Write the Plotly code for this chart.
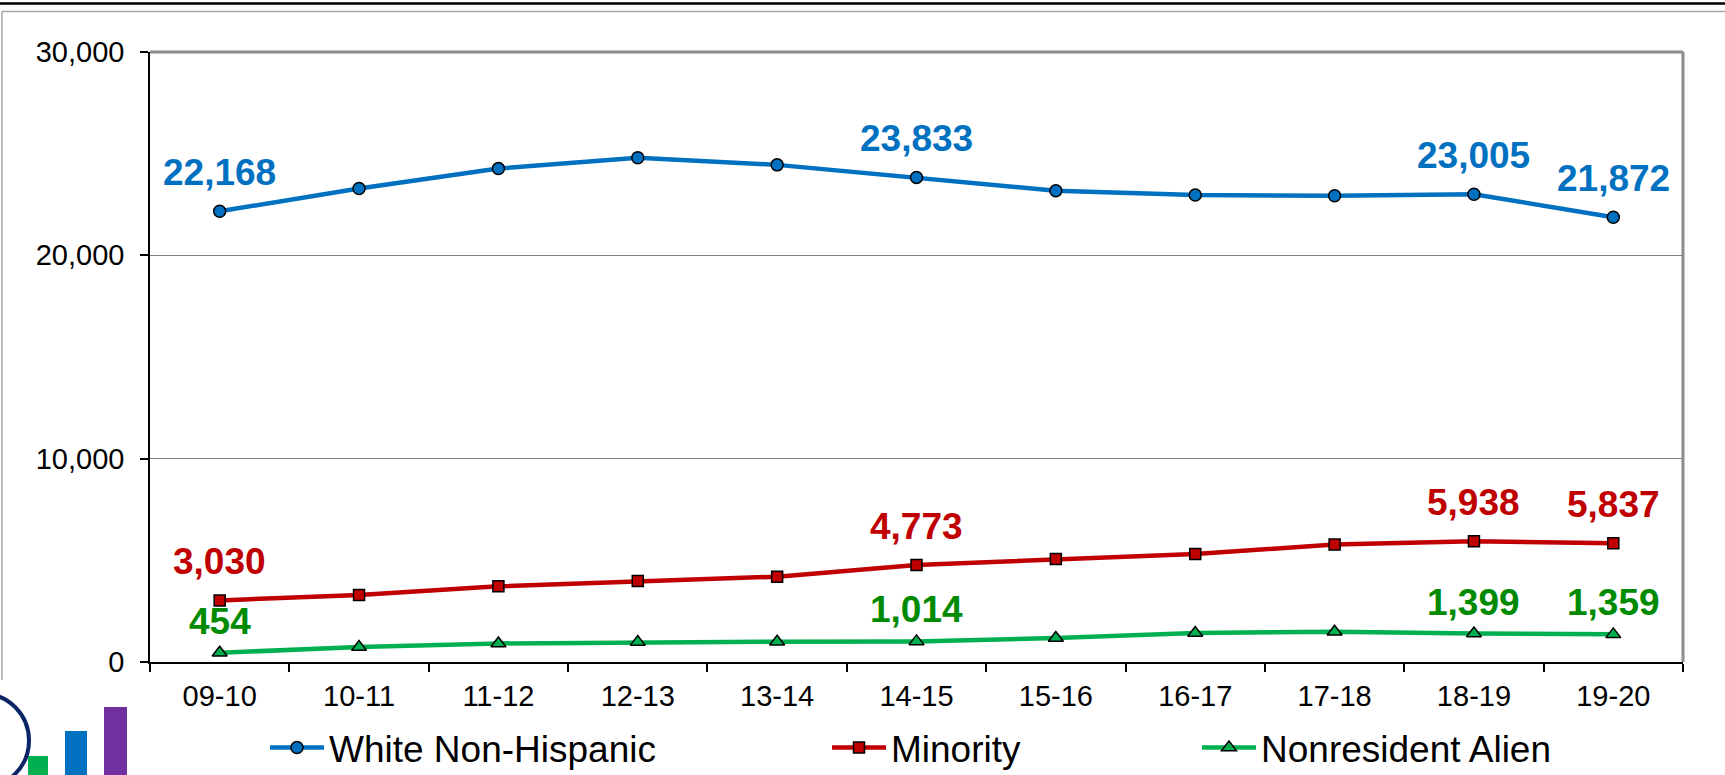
import plotly.graph_objects as go

# ---------------- data ----------------
years = ["09-10", "10-11", "11-12", "12-13", "13-14", "14-15",
         "15-16", "16-17", "17-18", "18-19", "19-20"]
white_non_hispanic = [22168, 23284, 24266, 24799, 24449, 23833,
                      23177, 22964, 22931, 23005, 21872]
minority = [3030, 3293, 3720, 3984, 4197, 4773,
            5068, 5314, 5773, 5938, 5837]
nonresident_alien = [454, 733, 913, 979, 995, 1014,
                     1178, 1424, 1490, 1399, 1359]
labeled_years = ["09-10", "14-15", "18-19", "19-20"]
y_ticks = [0, 10000, 20000, 30000]

FONT = "Liberation Sans, Arial, sans-serif"

# figure geometry (pixels)
W, H = 1725, 775
ML, MR, MT, MB = 150, 42, 52, 113
PW, PH = W - ML - MR, H - MT - MB


def px(x):  # pixel x -> paper x
    return (x - ML) / PW


def py(y):  # pixel y -> paper y
    return (H - MB - y) / PH


series = [
    ("White Non-Hispanic", white_non_hispanic, "#0070C0", "#0070C0", "circle", 12, "legend", 16),
    ("Minority", minority, "#C00000", "#C00000", "square", 11, "legend2", 16),
    ("Nonresident Alien", nonresident_alien, "#00B050", "#008A00", "triangle-up", 13, "legend3", 9),
]

fig = go.Figure()
annotations = []
for name, vals, col, lcol, sym, msize, leg, shift in series:
    fig.add_trace(go.Scatter(
        x=years, y=vals, name=name, mode="lines+markers",
        line=dict(color=col, width=4.5),
        marker=dict(symbol=sym, size=msize, color=col,
                    line=dict(color="black", width=1.5)),
        cliponaxis=False, legend=leg,
    ))
    for c, v in zip(years, vals):
        if c in labeled_years:
            annotations.append(dict(
                x=c, y=v, xref="x", yref="y", text=f"{v:,}", showarrow=False,
                yanchor="bottom", xanchor="center", yshift=shift,
                font=dict(family=FONT, size=37, color=lcol, weight="bold")))

shapes = []
# plot-area top & right border (grey)
shapes.append(dict(type="line", xref="paper", yref="paper", x0=0, x1=1, y0=1, y1=1,
                   line=dict(color="#8C8C8C", width=3), layer="below"))
shapes.append(dict(type="line", xref="paper", yref="paper", x0=1, x1=1, y0=0, y1=1,
                   line=dict(color="#8C8C8C", width=3), layer="below"))
# outer frame decoration
shapes.append(dict(type="line", xref="paper", yref="paper", x0=px(0), x1=px(W),
                   y0=py(3.5), y1=py(3.5), line=dict(color="black", width=2.5)))
shapes.append(dict(type="line", xref="paper", yref="paper", x0=px(2), x1=px(W),
                   y0=py(11.5), y1=py(11.5), line=dict(color="#A6A6A6", width=1.5)))
shapes.append(dict(type="line", xref="paper", yref="paper", x0=px(2), x1=px(2),
                   y0=py(11.5), y1=py(680), line=dict(color="#A6A6A6", width=1.5)))
# logo bars
for x0, x1, top, c in [(28, 48, 756, "#00B050"), (65, 87, 731, "#0070C0"),
                       (104, 127, 707, "#7030A0")]:
    shapes.append(dict(type="rect", xref="paper", yref="paper",
                       x0=px(x0), x1=px(x1), y0=py(H + 5), y1=py(top),
                       fillcolor=c, line=dict(width=0)))
# logo ring
shapes.append(dict(type="circle", xref="paper", yref="paper",
                   x0=px(-62), x1=px(29), y0=py(787), y1=py(694),
                   line=dict(color="#0B2466", width=4)))

leg_common = dict(orientation="h", yanchor="middle", xanchor="left",
                  font=dict(family=FONT, size=37, color="black"),
                  bgcolor="rgba(0,0,0,0)", itemwidth=54)

fig.update_layout(
    width=W, height=H,
    margin=dict(l=ML, r=MR, t=MT, b=MB, pad=0, autoexpand=False),
    paper_bgcolor="white", plot_bgcolor="white",
    font=dict(family=FONT, size=29, color="black"),
    xaxis=dict(type="category", range=[-0.5, 10.5], tickson="boundaries",
               ticks="outside", ticklen=8, tickwidth=1.5, tickcolor="black",
               showline=True, linecolor="black", linewidth=1.5,
               showgrid=False, tickfont=dict(size=29), ticklabelstandoff=7,
               automargin=False),
    yaxis=dict(range=[0, 30000], tickvals=y_ticks, tickformat=",",
               ticks="outside", ticklen=8, tickwidth=1.5, tickcolor="black",
               showline=True, linecolor="black", linewidth=1.5,
               showgrid=True, gridcolor="#808080", gridwidth=1,
               zeroline=False, tickfont=dict(size=29), ticklabelstandoff=10,
               automargin=False),
    showlegend=True,
    legend=dict(x=px(265), y=py(748), **leg_common),
    legend2=dict(x=px(827), y=py(748), **leg_common),
    legend3=dict(x=px(1197), y=py(748), **leg_common),
    shapes=shapes,
    annotations=annotations,
)

fig.write_html("out.html",
               config={"displayModeBar": False},
               post_script="document.body.style.margin='0';"
                           "document.body.style.overflow='hidden';")
